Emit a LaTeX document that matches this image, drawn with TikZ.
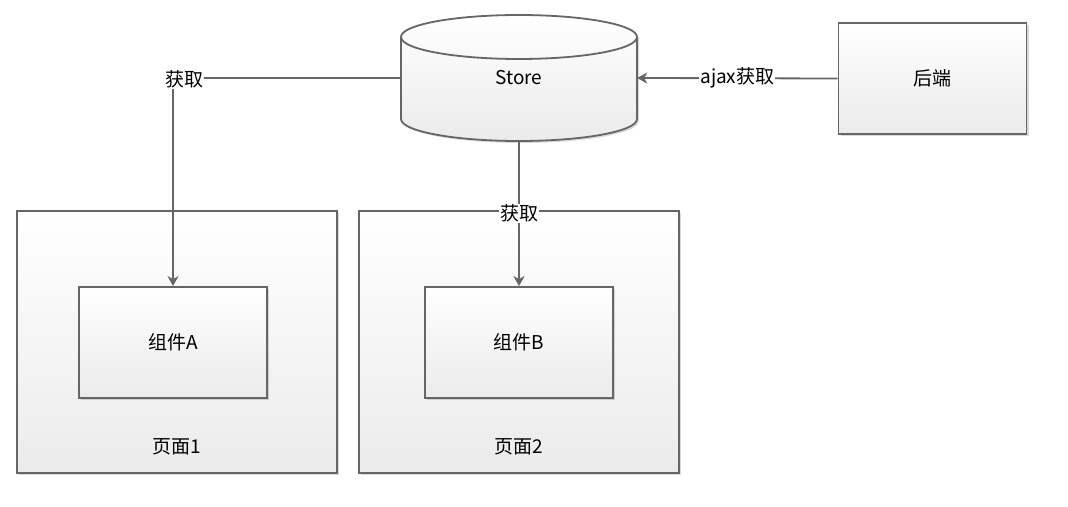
\documentclass[tikz,border=0pt]{standalone}
\usepackage{fontspec}
\setmainfont{Noto Sans CJK SC}
\usetikzlibrary{arrows.meta,shadows,positioning}
\definecolor{linegray}{HTML}{666666}
\definecolor{boxgray}{HTML}{EBEBEB}

\begin{document}
\begin{tikzpicture}[x=1pt, y=1pt,
  wire/.style={draw=linegray, line width=1.8pt},
  shade/.style={top color=white, bottom color=boxgray,
    drop shadow={shadow xshift=2pt, shadow yshift=-2pt, opacity=0.15, fill=black}},
  box/.style={wire, shade, minimum width=188pt, minimum height=111pt,
    font=\fontsize{19}{23}\selectfont},
  page/.style={box, minimum width=320pt, minimum height=262pt},
  lbl/.style={fill=white, inner sep=1pt, font=\fontsize{19}{23}\selectfont},
  arr/.style={wire, -{Stealth[length=10pt, width=11pt, inset=3pt]}}]

\useasboundingbox (0,0) rectangle (1068,506);

% pages with their components
\node[page] (page1) at (177,164) {};
\node[page] (page2) at (519,164) {};
\node[box] (compA) at (173,163.5) {组件A};
\node[box] (compB) at (519,163.5) {组件B};
\node[lbl, fill=none] at (177,59) {页面1};
\node[lbl, fill=none] at (519,59) {页面2};

% store cylinder
\path[wire, shade] (401,469) -- (401,387)
  arc[start angle=180, end angle=360, x radius=118pt, y radius=22pt]
  -- (637,469)
  arc[start angle=0, end angle=180, x radius=118pt, y radius=22pt] -- cycle;
\draw[wire] (401,469)
  arc[start angle=180, end angle=360, x radius=118pt, y radius=22pt];
\node[minimum width=236pt, minimum height=126pt, inner sep=0pt,
  font=\fontsize{19}{23}\selectfont] (store) at (519,428) {Store};

\node[box] (backend) at (932.5,427.5) {后端};

% connectors
\draw[arr] (store.west) -| (compA.north);
\node[lbl] at (184,427) {获取};

\draw[arr] (store.south) -- node[lbl] {获取} (compB.north);

\draw[arr] (backend.west) -- node[lbl] {ajax获取} (store.east);

\end{tikzpicture}
\end{document}
